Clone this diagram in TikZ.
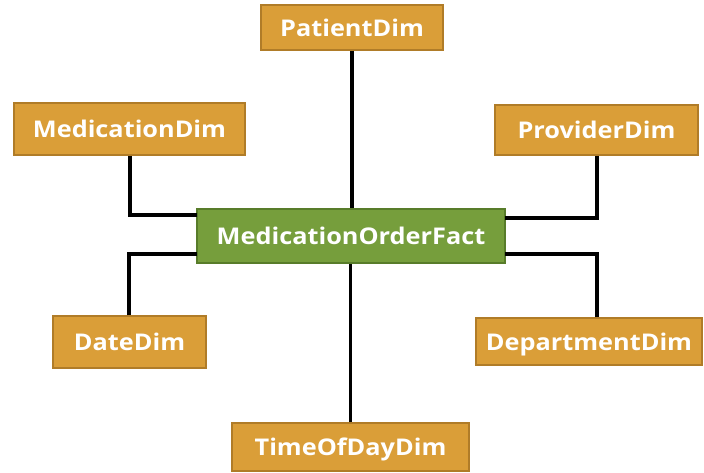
\documentclass[tikz,border=0pt]{standalone}
\usepackage{fontspec}
\setmainfont{Open Sans}
\newfontfamily\boxfont[FakeStretch=1.1]{Open Sans}

\begin{document}
\begin{tikzpicture}[x=1pt, y=-1pt,
  dimbox/.style={draw=dimborder, fill=dimfill, line width=1.5pt, text=white,
    font=\boxfont\fontsize{23}{26}\selectfont\bfseries, inner sep=0pt, text depth=0pt},
  factbox/.style={dimbox, draw=factborder, fill=factfill},
  link/.style={line width=3.3pt, black}]

\definecolor{dimfill}{RGB}{218,158,56}
\definecolor{dimborder}{RGB}{176,124,40}
\definecolor{factfill}{RGB}{118,158,60}
\definecolor{factborder}{RGB}{88,124,42}

\useasboundingbox (0,0) rectangle (704,472);

% Knickpunkte der Linien
\coordinate (factNW) at (197,215);
\coordinate (factSW) at (197,254);
\coordinate (factNE) at (505,218);
\coordinate (factSE) at (505,254);
\coordinate (medTurn) at (130,215);
\coordinate (provTurn) at (597,218);
\coordinate (dateTurn) at (129,254);
\coordinate (deptTurn) at (597,254);

% Faktentabelle
\node[factbox, minimum width=308, minimum height=54] (fact) at (351,236) {MedicationOrderFact};

% Dimensionen
\node[dimbox, minimum width=182, minimum height=45] (patient) at (352,27.5) {PatientDim};
\node[dimbox, minimum width=231, minimum height=52] (medication) at (129.5,129) {MedicationDim};
\node[dimbox, minimum width=203, minimum height=50] (provider) at (596.5,130) {ProviderDim};
\node[dimbox, minimum width=153, minimum height=52] (date) at (129.5,342) {DateDim};
\node[dimbox, minimum width=226, minimum height=47] (department) at (589,341.5) {DepartmentDim};
\node[dimbox, minimum width=237, minimum height=48] (timeofday) at (350.5,447) {TimeOfDayDim};

% Linien
\draw[link] (patient.south) -- (patient.south |- fact.north);
\draw[link] (timeofday.north) -- (timeofday.north |- fact.south);
\draw[link] (medication.south -| medTurn) -- (medTurn) -- (factNW);
\draw[link] (provider.south -| provTurn) -- (provTurn) -- (factNE);
\draw[link] (date.north -| dateTurn) -- (dateTurn) -- (factSW);
\draw[link] (department.north -| deptTurn) -- (deptTurn) -- (factSE);

\end{tikzpicture}
\end{document}
